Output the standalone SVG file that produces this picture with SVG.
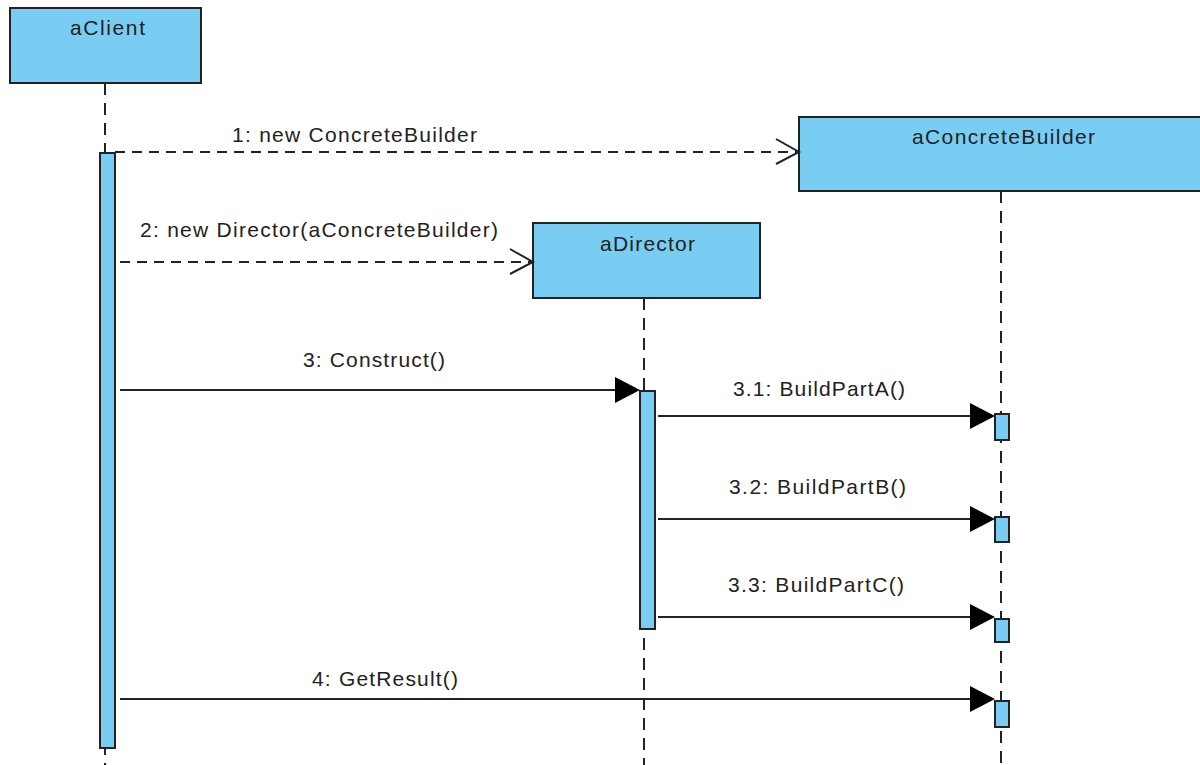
<svg xmlns="http://www.w3.org/2000/svg" width="1200" height="765" viewBox="0 0 1200 765">
  <style>
    .obj { fill: #79cdf3; stroke: #222; stroke-width: 2; }
    .act { fill: #79cdf3; stroke: #222; stroke-width: 2; }
    .life { stroke: #222; stroke-width: 2; stroke-dasharray: 12 8; fill: none; }
    .call { stroke: #222; stroke-width: 2; fill: none; }
    .create { stroke: #222; stroke-width: 2; stroke-dasharray: 10 7; fill: none; }
    .open { stroke: #222; stroke-width: 2; fill: none; }
    .head { fill: #000; stroke: none; }
    text { font-family: "Liberation Sans", Arial, sans-serif; font-size: 21px; fill: #222; }
  </style>
  <rect width="1200" height="765" fill="#fff"/>

  <!-- lifelines -->
  <g id="lifelines">
    <line class="life" x1="105" y1="83" x2="105" y2="765"/>
    <line class="life" x1="644" y1="298" x2="644" y2="765"/>
    <line class="life" x1="1001" y1="191" x2="1001" y2="765"/>
  </g>

  <g id="aClient">
    <rect class="obj" x="10" y="8" width="191" height="75"/>
    <text x="70" y="35" textLength="75" lengthAdjust="spacing">aClient</text>
    <rect class="act" x="100" y="153" width="15" height="595"/>
  </g>

  <g id="aConcreteBuilder">
    <rect class="obj" x="799" y="117" width="410" height="74"/>
    <text x="912" y="144" textLength="183" lengthAdjust="spacing">aConcreteBuilder</text>
    <rect class="act" x="995" y="414" width="14" height="26"/>
    <rect class="act" x="995" y="517" width="14" height="25"/>
    <rect class="act" x="995" y="619" width="14" height="23"/>
    <rect class="act" x="995" y="701" width="14" height="26"/>
  </g>

  <g id="aDirector">
    <rect class="obj" x="533" y="223" width="227" height="75"/>
    <text x="600" y="251" textLength="95" lengthAdjust="spacing">aDirector</text>
    <rect class="act" x="640" y="391" width="15" height="238"/>
  </g>

  <!-- messages -->
  <g id="messages">
    <line class="create" x1="115" y1="152" x2="799" y2="152"/>
    <polyline class="open" points="776,139 799,152 776,164"/>
    <text x="232" y="142" textLength="245" lengthAdjust="spacing">1: new ConcreteBuilder</text>

    <line class="create" x1="120" y1="262" x2="533" y2="262"/>
    <polyline class="open" points="510,249 533,262 510,274"/>
    <text x="140" y="237" textLength="358" lengthAdjust="spacing">2: new Director(aConcreteBuilder)</text>

    <line class="call" x1="120" y1="390" x2="618" y2="390"/>
    <polygon class="head" points="615,377 640,390 615,403"/>
    <text x="303" y="367" textLength="142" lengthAdjust="spacing">3: Construct()</text>

    <line class="call" x1="658" y1="416" x2="973" y2="416"/>
    <polygon class="head" points="970,403 995,416 970,429"/>
    <text x="733" y="396" textLength="172" lengthAdjust="spacing">3.1: BuildPartA()</text>

    <line class="call" x1="658" y1="519" x2="973" y2="519"/>
    <polygon class="head" points="970,506 995,519 970,532"/>
    <text x="729" y="494" textLength="177" lengthAdjust="spacing">3.2: BuildPartB()</text>

    <line class="call" x1="658" y1="617" x2="973" y2="617"/>
    <polygon class="head" points="970,604 995,617 970,630"/>
    <text x="728" y="592" textLength="176" lengthAdjust="spacing">3.3: BuildPartC()</text>

    <line class="call" x1="120" y1="699" x2="973" y2="699"/>
    <polygon class="head" points="970,686 995,699 970,712"/>
    <text x="312" y="686" textLength="146" lengthAdjust="spacing">4: GetResult()</text>
  </g>
</svg>
